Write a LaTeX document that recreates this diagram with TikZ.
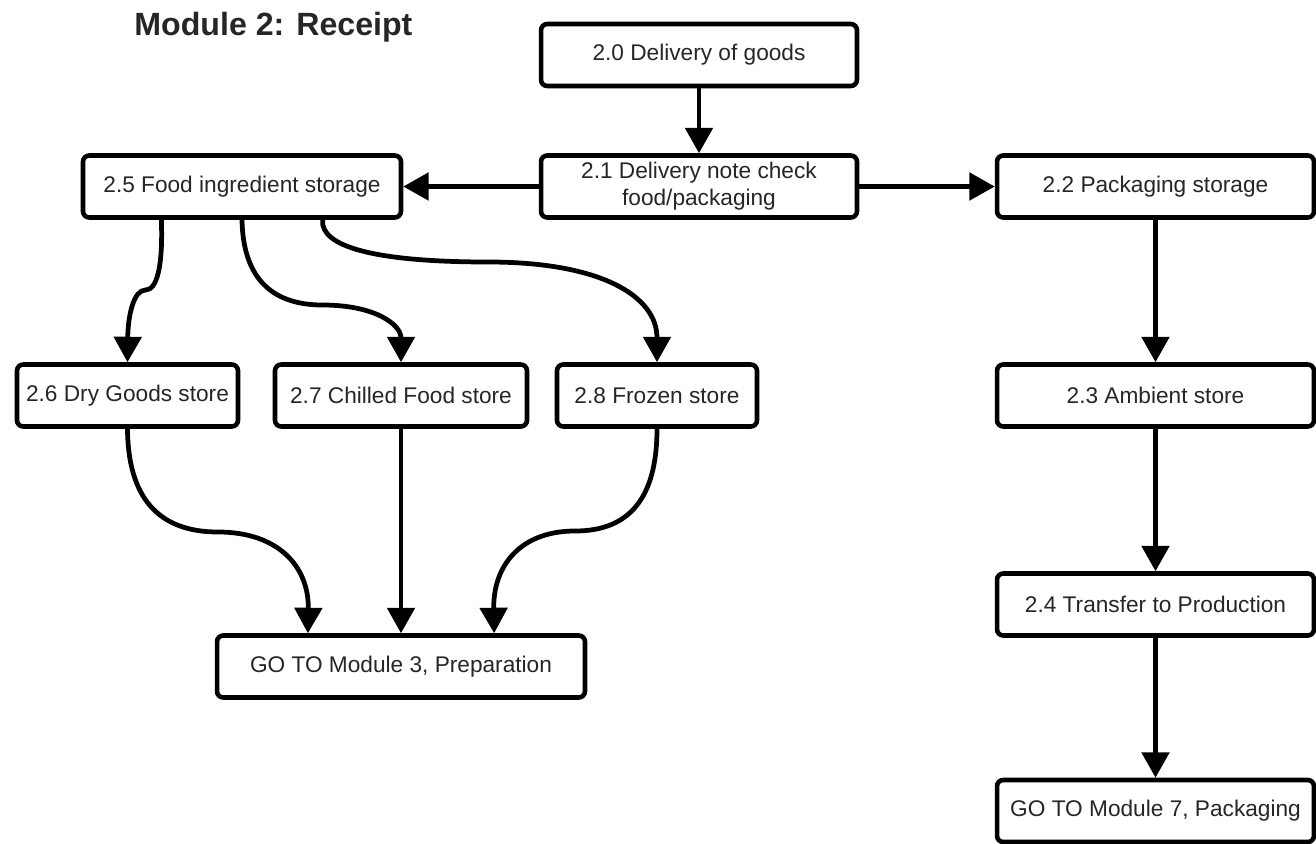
\documentclass[tikz,border=0pt]{standalone}
\usepackage{fontspec}
\setmainfont{Liberation Sans}
\usetikzlibrary{arrows.meta,calc}
\newcommand\myboxfont{\fontsize{12.9}{15.4}\selectfont}
\newcommand\mytitlefont{\fontsize{18.3}{22}\selectfont\bfseries}
\tikzset{
  procbox/.style={draw, line width=2.6pt, rounded corners=3.5pt, minimum height=1.24cm,
    inner sep=0pt, align=center, font=\myboxfont, fill=white, text=black!85},
  arr/.style={line width=2.7pt, -{Triangle[length=14.5pt,width=15.5pt]}},
}
\begin{document}
\begin{tikzpicture}[x=0.02cm,y=-0.02cm]
\useasboundingbox (0,0) rectangle (1316,843);
\node[anchor=base west, font=\mytitlefont, text=black!85, inner sep=0pt] (title) at (134,35) {Module 2: Receipt};

\node[procbox, minimum width=6.32cm] (n20) at (699,55) {2.0 Delivery of goods};
\node[procbox, minimum width=6.32cm] (n21) at (699,186.5) {2.1 Delivery note check\\food/packaging};
\node[procbox, minimum width=6.36cm] (n25) at (242,186.5) {2.5 Food ingredient storage};
\node[procbox, minimum width=6.34cm] (n22) at (1155.5,186.5) {2.2 Packaging storage};
\node[procbox, minimum width=4.42cm] (n26) at (127.5,395.5) {2.6 Dry Goods store};
\node[procbox, minimum width=5.04cm] (n27) at (401,395.5) {2.7 Chilled Food store};
\node[procbox, minimum width=4.0cm] (n28) at (657,395.5) {2.8 Frozen store};
\node[procbox, minimum width=6.34cm] (n23) at (1155.5,395.5) {2.3 Ambient store};
\node[procbox, minimum width=6.34cm] (n24) at (1155.5,604.5) {2.4 Transfer to Production};
\node[procbox, minimum width=7.36cm] (go3) at (401,666.5) {GO TO Module 3, Preparation};
\node[procbox, minimum width=6.34cm] (go7) at (1155.5,811) {GO TO Module 7, Packaging};

\draw[arr] (n20) -- (n21);
\draw[arr] (n21.west) -- (n25.east);
\draw[arr] (n21.east) -- (n22.west);
\draw[arr] (n22) -- (n23);
\draw[arr] (n23) -- (n24);
\draw[arr] (n24) -- (go7);

\draw[arr] ($(n25.south west)!0.25!(n25.south east)$)
  .. controls (163,265.7) and (157.2,290) .. (145.5,290)
  .. controls (133.8,290) and (128,314.7) .. (n26.north);
\draw[arr] ($(n25.south west)!0.5!(n25.south east)$)
  .. controls (243,275.7) and (269.5,305) .. (322.5,305)
  .. controls (375.5,305) and (401,324.7) .. (n27.north);
\draw[arr] ($(n25.south west)!0.75!(n25.south east)$)
  .. controls (320,247) and (376.2,262) .. (488.5,262)
  .. controls (600.8,262) and (657,296) .. (n28.north);

\draw[arr] (n26.south)
  .. controls (128,497.3) and (158,532) .. (218,532)
  .. controls (278,532) and (309,566.3) .. ($(go3.north west)!0.25!(go3.north east)$);
\draw[arr] (n27) -- (go3);
\draw[arr] (n28.south)
  .. controls (657,497.7) and (629.7,531) .. (575,531)
  .. controls (520.3,531) and (493,565.7) .. ($(go3.north west)!0.75!(go3.north east)$);
\end{tikzpicture}
\end{document}
